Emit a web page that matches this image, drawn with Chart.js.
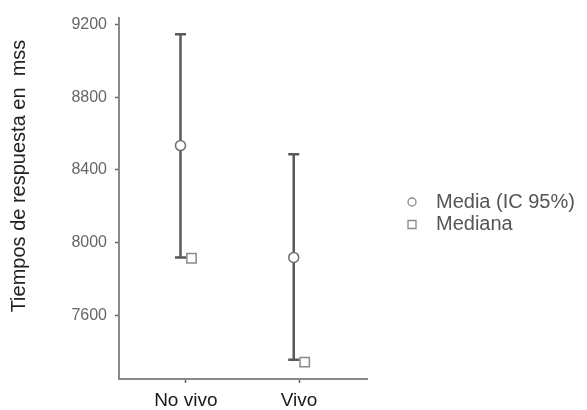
<!DOCTYPE html>
<html>
<head>
<meta charset="utf-8">
<script src="https://cdn.jsdelivr.net/npm/chart.js@4.4.1/dist/chart.umd.min.js"></script>
<style>
  html, body { margin: 0; padding: 0; background: #fff; }
  #wrap { width: 587px; height: 410px; position: relative; }
</style>
</head>
<body>
<div id="wrap"><canvas id="chart"></canvas></div>
<script>
const categories = ["No vivo", "Vivo"];
const meanValues = [8534, 7918];
const ciLower = [7918, 7354];
const ciUpper = [9147, 8486];
const medianValues = [7913, 7341];
const yTicks = [7600, 8000, 8400, 8800, 9200];
const legendLabels = ["Media (IC 95%)", "Mediana"];
const yTitle = "Tiempos de respuesta en  mss";

const FONT = "'Liberation Sans', Arial, sans-serif";
const BAR_COLOR = "#5a5a5a";
const MEAN_SHIFT = -0.047;
const MEDIAN_SHIFT = 0.05;
const CAP = 5.5;

// error bars for the mean, drawn under the points
const errorBars = {
  id: "errorBars",
  beforeDatasetsDraw(chart) {
    const { ctx, scales: { x, y } } = chart;
    ctx.save();
    ctx.strokeStyle = BAR_COLOR;
    ctx.lineWidth = 2.5;
    categories.forEach((c, i) => {
      const px = x.getPixelForValue(i + 1 + MEAN_SHIFT);
      const top = y.getPixelForValue(ciUpper[i]);
      const bottom = y.getPixelForValue(ciLower[i]);
      ctx.beginPath();
      ctx.moveTo(px, top);
      ctx.lineTo(px, bottom);
      ctx.moveTo(px - CAP, top);
      ctx.lineTo(px + CAP, top);
      ctx.moveTo(px - CAP, bottom);
      ctx.lineTo(px + CAP, bottom);
      ctx.stroke();
    });
    ctx.restore();
  }
};

// axis title and legend on the side
const sideText = {
  id: "sideText",
  afterDraw(chart) {
    const { ctx } = chart;
    ctx.save();
    ctx.fillStyle = "#222";
    ctx.font = "20px " + FONT;
    ctx.textAlign = "center";
    ctx.textBaseline = "middle";
    ctx.translate(19, 176);
    ctx.rotate(-Math.PI / 2);
    ctx.fillText(yTitle, 0, 0);
    ctx.restore();

    ctx.save();
    ctx.font = "20px " + FONT;
    ctx.textBaseline = "middle";
    ctx.textAlign = "left";
    legendLabels.forEach((label, i) => {
      const cy = 202 + i * 22.5;
      ctx.strokeStyle = "#8a8a8a";
      ctx.fillStyle = "#fff";
      ctx.lineWidth = 1.3;
      ctx.beginPath();
      if (i === 0) ctx.arc(412, cy, 4, 0, Math.PI * 2);
      else ctx.rect(408, cy - 4, 8, 8);
      ctx.fill();
      ctx.stroke();
      ctx.fillStyle = "#555";
      ctx.fillText(label, 436, cy);
    });
    ctx.restore();
  }
};

new Chart(document.getElementById("chart"), {
  type: "scatter",
  data: {
    datasets: [
      {
        label: legendLabels[0],
        data: categories.map((c, i) => ({ x: i + 1 + MEAN_SHIFT, y: meanValues[i] })),
        pointStyle: "circle",
        pointRadius: 5,
        pointBackgroundColor: "#fff",
        pointBorderColor: "#6e6e6e",
        pointBorderWidth: 1.5
      },
      {
        label: legendLabels[1],
        data: categories.map((c, i) => ({ x: i + 1 + MEDIAN_SHIFT, y: medianValues[i] })),
        pointStyle: "rect",
        pointRadius: 6.6,
        pointBackgroundColor: "#fff",
        pointBorderColor: "#8a8a8a",
        pointBorderWidth: 1.5
      }
    ]
  },
  options: {
    responsive: true,
    maintainAspectRatio: false,
    animation: false,
    layout: { padding: { top: 15, right: 220, left: 0, bottom: 0 } },
    plugins: {
      legend: { display: false },
      tooltip: { enabled: false }
    },
    scales: {
      x: {
        type: "linear",
        min: 0.41,
        max: 2.6,
        afterBuildTicks: (s) => { s.ticks = categories.map((c, i) => ({ value: i + 1 })); },
        afterFit: (s) => { s.height = 31; },
        ticks: {
          callback: (v) => categories[v - 1],
          font: { family: FONT, size: 19 },
          color: "#1a1a1a",
          padding: 6,
          maxRotation: 0
        },
        grid: { drawOnChartArea: false, tickLength: 4, color: "#666", tickWidth: 1.5 },
        border: { display: true, color: "#8a8a8a", width: 2 }
      },
      y: {
        min: 7248,
        max: 9239,
        afterBuildTicks: (s) => { s.ticks = yTicks.map((v) => ({ value: v })); },
        afterFit: (s) => { s.width = 119; },
        ticks: {
          callback: (v) => String(v),
          font: { family: FONT, size: 16 },
          color: "#666",
          padding: 8
        },
        grid: { drawOnChartArea: false, tickLength: 4, color: "#666", tickWidth: 1.5 },
        border: { display: true, color: "#8a8a8a", width: 2 }
      }
    }
  },
  plugins: [errorBars, sideText]
});
</script>
</body>
</html>
